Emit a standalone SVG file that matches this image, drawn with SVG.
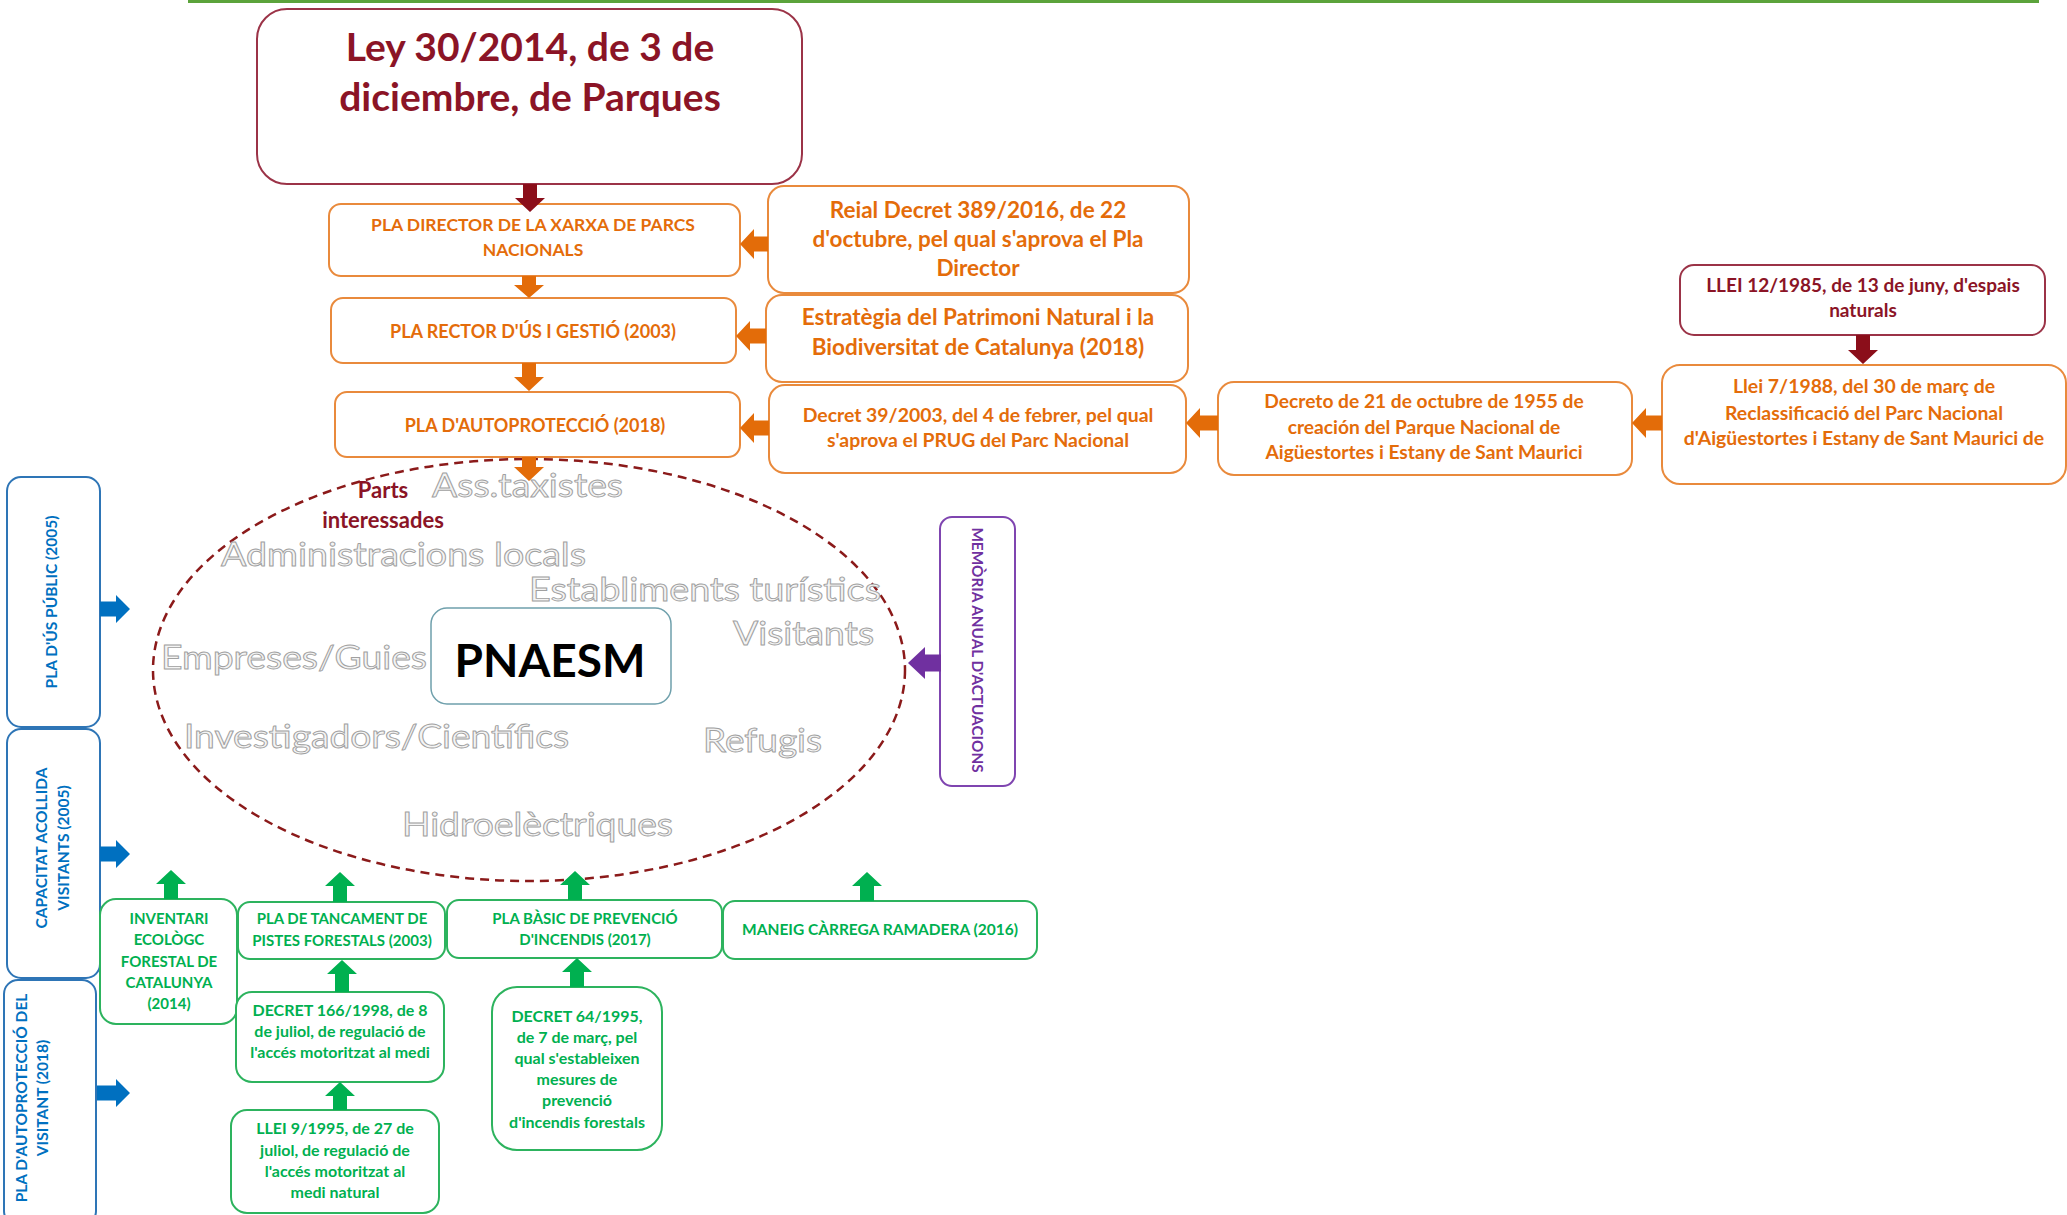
<svg xmlns="http://www.w3.org/2000/svg" width="2067" height="1215" viewBox="0 0 2067 1215">
<style>
text{font-family:Lato,"Liberation Sans",sans-serif;font-weight:bold;text-anchor:middle}
.red{fill:#8B1426}
.org{fill:#E46C0A}
.grn{fill:#00B050}
.blu{fill:#0070C0}
.pur{fill:#7030A0}
.bx-red{fill:#fff;stroke:#9B3347;stroke-width:2}
.bx-org{fill:#fff;stroke:#E98A3C;stroke-width:2}
.bx-grn{fill:#fff;stroke:#2DB35E;stroke-width:2}
.bx-blu{fill:#fff;stroke:#2E75B6;stroke-width:2}
.bx-pur{fill:#fff;stroke:#7F45B0;stroke-width:2}
.gray{font-weight:normal;font-size:32px;fill:#F4F4F4;stroke:#A0A0A0;stroke-width:0.9;text-anchor:start}
.a-red{fill:#8B0E1A}
.a-org{fill:#E36C09}
.a-grn{fill:#00B050}
.a-blu{fill:#0070C0}
.a-pur{fill:#7030A0}
.g15{font-size:15px}
.g16{font-size:16px}
</style>
<rect width="2067" height="1215" fill="#fff"/>
<line x1="188" y1="1.5" x2="2039" y2="1.5" stroke="#5BA33B" stroke-width="3"/>

<g id="ellipse-parts">
<ellipse cx="529" cy="670" rx="376" ry="211" fill="none" stroke="#8B1A1A" stroke-width="2.5" stroke-dasharray="9 6"/>
</g>

<g id="ley30">
<rect class="bx-red" x="257" y="9" width="545" height="175" rx="30"/>
<text class="red" x="530" y="61" font-size="39">Ley 30/2014, de 3 de</text>
<text class="red" x="530" y="111" font-size="39">diciembre, de Parques</text>
</g>

<g id="pla-director">
<rect class="bx-org" x="329" y="204" width="411" height="72" rx="12"/>
<text class="org" x="533" y="231" font-size="17.5">PLA DIRECTOR DE LA XARXA DE PARCS</text>
<text class="org" x="533" y="256" font-size="17.5">NACIONALS</text>
</g>
<g id="pla-rector">
<rect class="bx-org" x="331" y="298" width="405" height="65" rx="12"/>
<text class="org" x="533" y="338" font-size="18">PLA RECTOR D'ÚS I GESTIÓ (2003)</text>
</g>
<g id="pla-autoproteccio">
<rect class="bx-org" x="335" y="392" width="405" height="65" rx="12"/>
<text class="org" x="535" y="432" font-size="18">PLA D'AUTOPROTECCIÓ (2018)</text>
</g>

<g id="reial-decret">
<rect class="bx-org" x="768" y="186" width="421" height="107" rx="16"/>
<text class="org" x="978" y="218" font-size="22.5">Reial Decret 389/2016, de 22</text>
<text class="org" x="978" y="247" font-size="22.5">d'octubre, pel qual s'aprova el Pla</text>
<text class="org" x="978" y="276" font-size="22.5">Director</text>
</g>
<g id="estrategia">
<rect class="bx-org" x="766" y="295" width="422" height="87" rx="16"/>
<text class="org" x="978" y="325" font-size="22.5">Estratègia del Patrimoni Natural i la</text>
<text class="org" x="978" y="355" font-size="22.5">Biodiversitat de Catalunya (2018)</text>
</g>
<g id="decret39">
<rect class="bx-org" x="769" y="385" width="417" height="88" rx="16"/>
<text class="org" x="978" y="422" font-size="19.4">Decret 39/2003, del 4 de febrer, pel qual</text>
<text class="org" x="978" y="447" font-size="19.4">s'aprova el PRUG del Parc Nacional</text>
</g>
<g id="decreto1955">
<rect class="bx-org" x="1218" y="382" width="414" height="93" rx="16"/>
<text class="org" x="1424" y="408" font-size="19.2">Decreto de 21 de octubre de 1955 de</text>
<text class="org" x="1424" y="434" font-size="19.2">creación del Parque Nacional de</text>
<text class="org" x="1424" y="459" font-size="19.2">Aigüestortes i Estany de Sant Maurici</text>
</g>
<g id="llei7">
<rect class="bx-org" x="1662" y="365" width="404" height="119" rx="18"/>
<text class="org" x="1864" y="393" font-size="19.4">Llei 7/1988, del 30 de març de</text>
<text class="org" x="1864" y="420" font-size="19.4">Reclassificació del Parc Nacional</text>
<text class="org" x="1864" y="445" font-size="19.4">d'Aigüestortes i Estany de Sant Maurici de</text>
</g>
<g id="llei12">
<rect class="bx-red" x="1680" y="265" width="365" height="70" rx="14"/>
<text class="red" x="1863" y="292" font-size="19">LLEI 12/1985, de 13 de juny, d'espais</text>
<text class="red" x="1863" y="317" font-size="19">naturals</text>
</g>

<g id="parts-interessades">
<text class="red" x="383" y="498" font-size="22">Parts</text>
<text class="red" x="383" y="528" font-size="22">interessades</text>
<text class="gray" x="432" y="497" textLength="191" lengthAdjust="spacingAndGlyphs">Ass.taxistes</text>
<text class="gray" x="221" y="566" textLength="365" lengthAdjust="spacingAndGlyphs">Administracions locals</text>
<text class="gray" x="529" y="601" textLength="352" lengthAdjust="spacingAndGlyphs">Establiments turístics</text>
<text class="gray" x="733" y="645" textLength="141" lengthAdjust="spacingAndGlyphs">Visitants</text>
<text class="gray" x="161" y="669" textLength="266" lengthAdjust="spacingAndGlyphs">Empreses/Guies</text>
<text class="gray" x="184" y="748" textLength="385" lengthAdjust="spacingAndGlyphs">Investigadors/Científics</text>
<text class="gray" x="703" y="752" textLength="119" lengthAdjust="spacingAndGlyphs">Refugis</text>
<text class="gray" x="402" y="836" textLength="271" lengthAdjust="spacingAndGlyphs">Hidroelèctriques</text>
</g>

<g id="pnaesm">
<rect x="431" y="608" width="240" height="96" rx="16" fill="#fff" stroke="#6FA0AC" stroke-width="1.5"/>
<text x="550" y="677" font-size="46" fill="#000">PNAESM</text>
</g>

<g id="pla-us-public">
<rect class="bx-blu" x="7" y="477" width="93" height="250" rx="14"/>
<text class="blu" font-size="15.5" transform="translate(52 602) rotate(-90)" y="5">PLA D'ÚS PÚBLIC (2005)</text>
</g>
<g id="capacitat-acollida">
<rect class="bx-blu" x="7" y="729" width="93" height="249" rx="14"/>
<g transform="translate(53 848) rotate(-90)">
<text class="blu" font-size="15.5" y="-6">CAPACITAT ACOLLIDA</text>
<text class="blu" font-size="15.5" y="16">VISITANTS (2005)</text>
</g>
</g>
<g id="pla-autoproteccio-visitant">
<rect class="bx-blu" x="4" y="980" width="92" height="245" rx="14"/>
<g transform="translate(32 1098) rotate(-90)">
<text class="blu" font-size="15.5" y="-5">PLA D'AUTOPROTECCIÓ DEL</text>
<text class="blu" font-size="15.5" y="16">VISITANT (2018)</text>
</g>
</g>

<g id="memoria">
<rect class="bx-pur" x="940" y="517" width="75" height="269" rx="12"/>
<text class="pur" font-size="15.3" transform="translate(977 650) rotate(90)" y="5">MEMÒRIA ANUAL D'ACTUACIONS</text>
</g>

<g id="inventari">
<rect class="bx-grn" x="100" y="899" width="137" height="125" rx="16"/>
<text class="grn g15" x="169" y="924">INVENTARI</text>
<text class="grn g15" x="169" y="945">ECOLÒGC</text>
<text class="grn g15" x="169" y="967">FORESTAL DE</text>
<text class="grn g15" x="169" y="988">CATALUNYA</text>
<text class="grn g15" x="169" y="1009">(2014)</text>
</g>
<g id="tancament">
<rect class="bx-grn" x="238" y="902" width="207" height="57" rx="12"/>
<text class="grn g15" x="342" y="924">PLA DE TANCAMENT DE</text>
<text class="grn g15" x="342" y="946">PISTES FORESTALS (2003)</text>
</g>
<g id="pla-basic">
<rect class="bx-grn" x="447" y="900" width="275" height="58" rx="12"/>
<text class="grn g15" x="585" y="924">PLA BÀSIC DE PREVENCIÓ</text>
<text class="grn g15" x="585" y="945">D'INCENDIS (2017)</text>
</g>
<g id="maneig">
<rect class="bx-grn" x="723" y="901" width="314" height="58" rx="12"/>
<text class="grn" x="880" y="935" font-size="15.5">MANEIG CÀRREGA RAMADERA (2016)</text>
</g>
<g id="decret166">
<rect class="bx-grn" x="236" y="992" width="208" height="90" rx="16"/>
<text class="grn g16" x="340" y="1016">DECRET 166/1998, de 8</text>
<text class="grn g16" x="340" y="1037">de juliol, de regulació de</text>
<text class="grn g16" x="340" y="1058">l'accés motoritzat al medi</text>
</g>
<g id="llei9">
<rect class="bx-grn" x="231" y="1110" width="208" height="103" rx="16"/>
<text class="grn g16" x="335" y="1134">LLEI 9/1995, de 27 de</text>
<text class="grn g16" x="335" y="1156">juliol, de regulació de</text>
<text class="grn g16" x="335" y="1177">l'accés motoritzat al</text>
<text class="grn g16" x="335" y="1198">medi natural</text>
</g>
<g id="decret64">
<rect class="bx-grn" x="492" y="987" width="170" height="163" rx="25"/>
<text class="grn g16" x="577" y="1022">DECRET 64/1995,</text>
<text class="grn g16" x="577" y="1043">de 7 de març, pel</text>
<text class="grn g16" x="577" y="1064">qual s'estableixen</text>
<text class="grn g16" x="577" y="1085">mesures de</text>
<text class="grn g16" x="577" y="1106">prevenció</text>
<text class="grn g16" x="577" y="1128">d'incendis forestals</text>
</g>

<g id="connectors">
<path class="a-red" d="M523 184 L537 184 L537 198 L545 198 L530 212 L515 198 L523 198 Z"/>
<path class="a-org" d="M522 276 L536 276 L536 285 L544 285 L529 298 L514 285 L522 285 Z"/>
<path class="a-org" d="M522 363 L536 363 L536 377 L544 377 L529 391 L514 377 L522 377 Z"/>
<path class="a-org" d="M522 457 L536 457 L536 467 L544 467 L529 481 L514 467 L522 467 Z"/>
<path class="a-red" d="M1856 335 L1870 335 L1870 350 L1878 350 L1863 364 L1848 350 L1856 350 Z"/>
<path class="a-org" d="M768 236.5 L754 236.5 L754 229 L740 244 L754 259 L754 251.5 L768 251.5 Z"/>
<path class="a-org" d="M766 328.5 L750 328.5 L750 321 L736 336 L750 351 L750 343.5 L766 343.5 Z"/>
<path class="a-org" d="M769 420.5 L754 420.5 L754 413 L740 428 L754 443 L754 435.5 L769 435.5 Z"/>
<path class="a-org" d="M1218 415.5 L1200 415.5 L1200 408 L1186 423 L1200 438 L1200 430.5 L1218 430.5 Z"/>
<path class="a-org" d="M1662 415.5 L1646 415.5 L1646 408 L1632 423 L1646 438 L1646 430.5 L1662 430.5 Z"/>
<path class="a-pur" d="M941 654.5 L925 654.5 L925 647 L908 663 L925 679 L925 671.5 L941 671.5 Z"/>
<path class="a-blu" d="M100 601.5 L116 601.5 L116 595 L130 609 L116 623 L116 616.5 L100 616.5 Z"/>
<path class="a-blu" d="M100 846.5 L116 846.5 L116 840 L130 854 L116 868 L116 861.5 L100 861.5 Z"/>
<path class="a-blu" d="M97 1085.5 L116 1085.5 L116 1079 L130 1093 L116 1107 L116 1100.5 L97 1100.5 Z"/>
<path class="a-grn" d="M164 899 L164 884 L156 884 L171 870 L186 884 L178 884 L178 899 Z"/>
<path class="a-grn" d="M333 902 L333 886 L325 886 L340 872 L355 886 L347 886 L347 902 Z"/>
<path class="a-grn" d="M568 900 L568 885 L560 885 L575 871 L590 885 L582 885 L582 900 Z"/>
<path class="a-grn" d="M860 901 L860 886 L852 886 L867 872 L882 886 L874 886 L874 901 Z"/>
<path class="a-grn" d="M335 992 L335 974 L327 974 L342 960 L357 974 L349 974 L349 992 Z"/>
<path class="a-grn" d="M333 1110 L333 1096 L325 1096 L340 1082 L355 1096 L347 1096 L347 1110 Z"/>
<path class="a-grn" d="M570 987 L570 972 L562 972 L577 958 L592 972 L584 972 L584 987 Z"/>
</g>
</svg>
